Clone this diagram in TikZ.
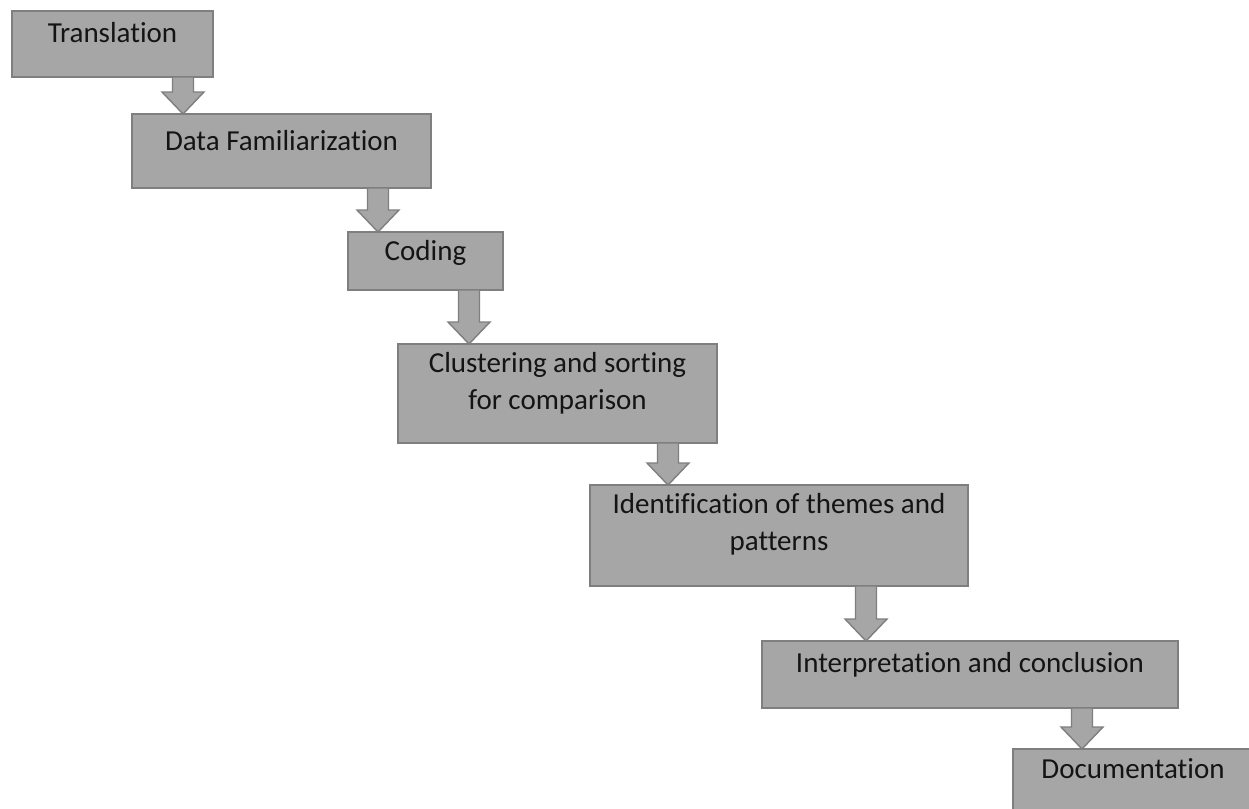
\documentclass[tikz,border=0pt]{standalone}
\usepackage{fontspec}
\setmainfont{Carlito}[Ligatures=NoCommon]
\usetikzlibrary{calc}
\definecolor{boxfill}{HTML}{A6A6A6}
\definecolor{boxline}{HTML}{7F7F7F}
\definecolor{txt}{HTML}{141414}
\tikzset{
  stepbox/.style={draw=boxline, fill=boxfill, line width=1.6pt, rectangle, inner sep=0pt, outer sep=0pt},
  arr/.style={draw=boxline, fill=boxfill, line width=1.4pt, line join=miter},
  lbl/.style={anchor=base, inner sep=0pt, text=txt, font=\fontsize{29}{37}\selectfont}
}
\newcommand\blockarrow[3]{%
  \path (#1,0) coordinate (ax);
  \path (#2.south -| ax) coordinate (atop);
  \path (#3.north -| ax) coordinate (atip);
  \draw[arr] ($(atop)+(-10.5,0)$) -- ($(atip)+(-10.5,-22)$) -- ($(atip)+(-21,-22)$) -- (atip)
     -- ($(atip)+(21,-22)$) -- ($(atip)+(10.5,-22)$) -- ($(atop)+(10.5,0)$) -- cycle;
}
\newcommand\boxat[5]{% name, x1, y1, x2, y2
  \node[stepbox, anchor=north west, minimum width={(#4-#2)*1pt}, minimum height={(#5-#3)*1pt}] (#1) at (#2,#3) {};
}
\begin{document}
\begin{tikzpicture}[x=1pt, y=-1pt]
\clip (0,0) rectangle (1249,808);
\fill[white] (0,0) rectangle (1249,808);
\boxat{b1}{12}{11}{213}{77}
\boxat{b2}{132}{114}{431}{188}
\boxat{b3}{348}{232}{503}{290}
\boxat{b4}{398}{344}{717}{443}
\boxat{b5}{590}{485}{968}{586}
\boxat{b6}{762}{641}{1178}{708}
\boxat{b7}{1013}{749}{1253}{820}
\node[lbl] (t1) at (112.5,43) {Translation};
\node[lbl] (t2) at (281.5,150) {Data Familiarization};
\node[lbl] (t3) at (425.5,260) {Coding};
\node[lbl] (t4a) at (557.5,372) {Clustering and sorting};
\node[lbl] (t4b) at (557.5,409) {for comparison};
\node[lbl] (t5a) at (779,513) {Identification of themes and};
\node[lbl] (t5b) at (779,550) {patterns};
\node[lbl] (t6) at (970,672) {Interpretation and conclusion};
\node[lbl] (t7) at (1133,778) {Documentation};
\blockarrow{183}{b1}{b2}
\blockarrow{378}{b2}{b3}
\blockarrow{469}{b3}{b4}
\blockarrow{668}{b4}{b5}
\blockarrow{866}{b5}{b6}
\blockarrow{1082}{b6}{b7}
\end{tikzpicture}
\end{document}
